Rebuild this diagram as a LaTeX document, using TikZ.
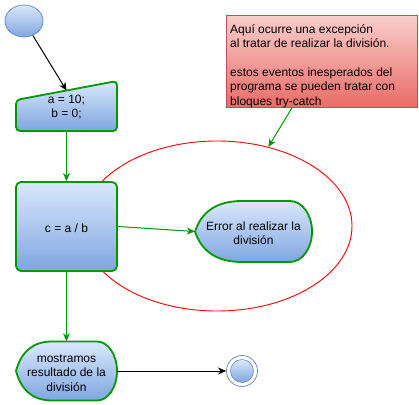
\documentclass[tikz,border=0pt]{standalone}
\usepackage{fontspec}
\setmainfont{Liberation Sans}
\usetikzlibrary{arrows.meta,calc,shapes.geometric}
\definecolor{fillTop}{HTML}{DAE8FC}
\definecolor{fillBot}{HTML}{7EA6E0}
\definecolor{blueLine}{HTML}{6C8EBF}
\definecolor{greenLine}{HTML}{009900}
\definecolor{noteTop}{HTML}{F8CECC}
\definecolor{noteBot}{HTML}{EA6B66}
\definecolor{noteLine}{HTML}{B85450}
\newcommand{\lowtxt}[2][c]{\raisebox{-3pt}[\height][\depth]{\begin{tabular}{@{}#1@{}}#2\end{tabular}}}
\begin{document}
\begin{tikzpicture}[x=1pt,y=-1pt,
  font=\fontsize{12}{14.4}\selectfont,
  bluegrad/.style={top color=fillTop, bottom color=fillBot},
  greenshape/.style={draw=greenLine, line width=1.8pt, bluegrad},
  bbox/.style={inner sep=0pt},
  tip/.style={-{Stealth[length=8pt,width=7pt,inset=2.5pt]}},
  blackarrow/.style={tip, draw=black, line width=1pt},
  greenarrow/.style={tip, draw=greenLine, fill=greenLine, line width=1pt},
]
\useasboundingbox (0,0) rectangle (419,404);

% red ellipse (behind)
\node[ellipse, draw=red, line width=0.9pt, minimum width=270pt, minimum height=170pt, inner sep=0pt] (scope) at (217,226) {};

% start
\node[ellipse, draw=blueLine, line width=0.8pt, bluegrad, minimum width=38pt, minimum height=32pt, inner sep=0pt] (start) at (24,21) {};

% manual input shape
\path[greenshape, rounded corners=4pt] (16,100) -- (117,81) -- (117,131) -- (16,131) -- cycle;
\node[bbox, minimum width=101pt, minimum height=50pt] (mi) at (66.5,106) {\raisebox{-1.5pt}[\height][\depth]{\begin{tabular}{@{}c@{}}a = 10;\\b = 0;\end{tabular}}};
\coordinate (mitop) at (66.5,90.5);

% process
\node[greenshape, rounded corners=5pt, minimum width=101pt, minimum height=89pt, inner sep=0pt] (calc) at (66.5,226.5) {\lowtxt{c = a / b}};

% display: mostramos
\path[greenshape] (16,371) .. controls (21.3,351.3) and (33.3,341.5) .. (52,341.5) -- (97,341.5)
  .. controls (108,341.5) and (117,354.7) .. (117,371)
  .. controls (117,387.3) and (108,400.5) .. (97,400.5) -- (52,400.5)
  .. controls (33.3,400.5) and (21.3,390.7) .. cycle;
\node[bbox, minimum width=101pt, minimum height=59pt] (show) at (66.5,371) {\lowtxt{mostramos\\resultado de la\\división}};

% display: error
\path[greenshape] (195,231.5) .. controls (201.7,211.2) and (217.3,201) .. (242,201) -- (290,201)
  .. controls (302.2,201) and (312,214.7) .. (312,231.5)
  .. controls (312,248.3) and (302.2,262) .. (290,262) -- (242,262)
  .. controls (217.3,262) and (201.7,251.8) .. cycle;
\node[bbox, minimum width=117pt, minimum height=61pt] (err) at (253.5,231.5) {\lowtxt{Error al realizar la\\división}};

% end
\node[circle, draw=blueLine, line width=0.8pt, fill=white, minimum size=31pt, inner sep=0pt] (end) at (242,371) {};
\node[circle, draw=blueLine, line width=0.6pt, bluegrad, minimum size=23pt, inner sep=0pt] (endin) at (end.center) {};

% note
\node[draw=noteLine, line width=0.8pt, top color=noteTop, bottom color=noteBot, minimum width=191pt, minimum height=92pt, inner sep=0pt, anchor=north west] (note) at (226,15) {};
\node[inner sep=0pt, anchor=west, align=left] (notetext) at (230,66.5) {\strut Aquí ocurre una excepción\\al tratar de realizar la división.\\\mbox{}\\estos eventos inesperados del\\programa se pueden tratar con\\bloques try-catch\strut};
\coordinate (notefoot) at ($(note.south west)+(66,0)$);

% connectors
\draw[blackarrow] (start) -- (mitop);
\draw[greenarrow] (mi.south) -- (calc.north);
\draw[greenarrow] (calc.south) -- (show.north);
\draw[greenarrow] (calc.east) -- (err.west);
\draw[blackarrow] (show.east) -- (end.west);
\draw[greenarrow] (notefoot) -- (scope.57);
\end{tikzpicture}
\end{document}
